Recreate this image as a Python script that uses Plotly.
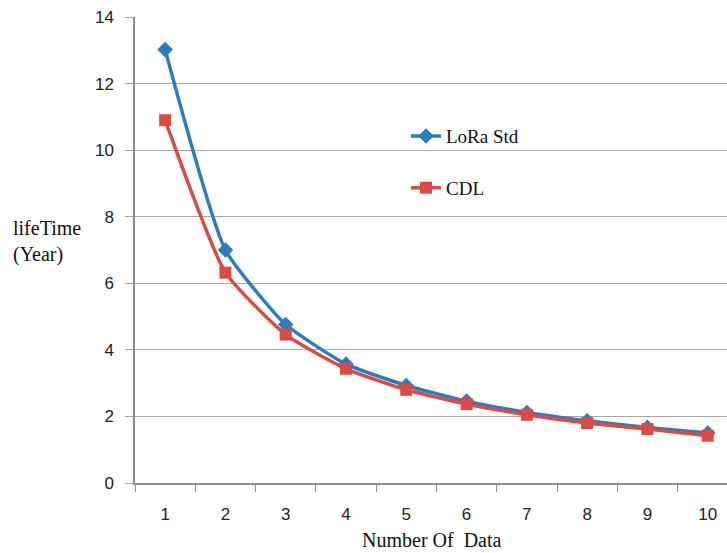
import plotly.graph_objects as go

categories = ["1", "2", "3", "4", "5", "6", "7", "8", "9", "10"]
lora_std = [13.02, 7.0, 4.76, 3.57, 2.93, 2.46, 2.12, 1.87, 1.67, 1.5]
cdl = [10.9, 6.32, 4.46, 3.43, 2.8, 2.37, 2.05, 1.8, 1.62, 1.42]
y_ticks = [0, 2, 4, 6, 8, 10, 12, 14]

BLUE = "#2A7DC0"
RED = "#DA4B44"
SERIF = "Liberation Serif, Times New Roman, serif"
SANS = "Liberation Sans, Arial, sans-serif"

fig = go.Figure()
fig.add_trace(go.Scatter(
    x=categories, y=lora_std, name="LoRa Std", mode="lines+markers",
    line=dict(color=BLUE, width=3.5, shape="spline", smoothing=0.5),
    marker=dict(symbol="diamond", size=12, color=BLUE),
    legendgroup="a",
))
fig.add_trace(go.Scatter(
    x=categories, y=cdl, name="CDL", mode="lines+markers",
    line=dict(color=RED, width=3.5, shape="spline", smoothing=0.5),
    marker=dict(symbol="square", size=12, color=RED),
    legendgroup="b",
))

plot_w = 727 - 135
plot_h = 553 - 17 - 70

fig.update_layout(
    width=727, height=553,
    margin=dict(l=135, r=0, t=17, b=70),
    paper_bgcolor="white", plot_bgcolor="white",
    showlegend=True,
    legend=dict(
        x=(406 - 135) / plot_w, y=0.785, xanchor="left", yanchor="top",
        bgcolor="rgba(0,0,0,0)", traceorder="grouped", tracegroupgap=24,
        font=dict(family=SERIF, size=19, color="#111111"),
        itemwidth=30,
    ),
    xaxis=dict(
        type="category", range=[-0.5, 9.32],
        showgrid=False, showline=True, linecolor="#8C8C8C", linewidth=1.5,
        ticks="outside", tickson="boundaries", ticklen=7, tickcolor="#8C8C8C",
        tickfont=dict(family=SANS, size=17, color="#222222"),
        ticklabelstandoff=15,
        zeroline=False,
    ),
    yaxis=dict(
        range=[0, 14], tickvals=y_ticks,
        showgrid=True, gridcolor="#A6A6A6", gridwidth=1.2,
        showline=True, linecolor="#8C8C8C", linewidth=1.5,
        ticks="outside", ticklen=8, tickcolor="#A6A6A6",
        tickfont=dict(family=SANS, size=17, color="#222222"),
        ticklabelstandoff=8,
        zeroline=False,
    ),
)
fig.add_annotation(
    text="lifeTime<br>(Year)", xref="paper", yref="paper",
    x=(11 - 135) / plot_w, y=(553 - 70 - 241) / plot_h,
    xanchor="left", yanchor="middle", align="left", showarrow=False,
    font=dict(family=SERIF, size=20, color="#111111"),
)
fig.add_annotation(
    text="Number Of  Data", xref="paper", yref="paper",
    x=(432 - 135) / plot_w, y=-(553 - 483) / plot_h,
    xanchor="center", yanchor="bottom", showarrow=False,
    font=dict(family=SERIF, size=20, color="#111111"),
)

fig.write_html("out.html")
